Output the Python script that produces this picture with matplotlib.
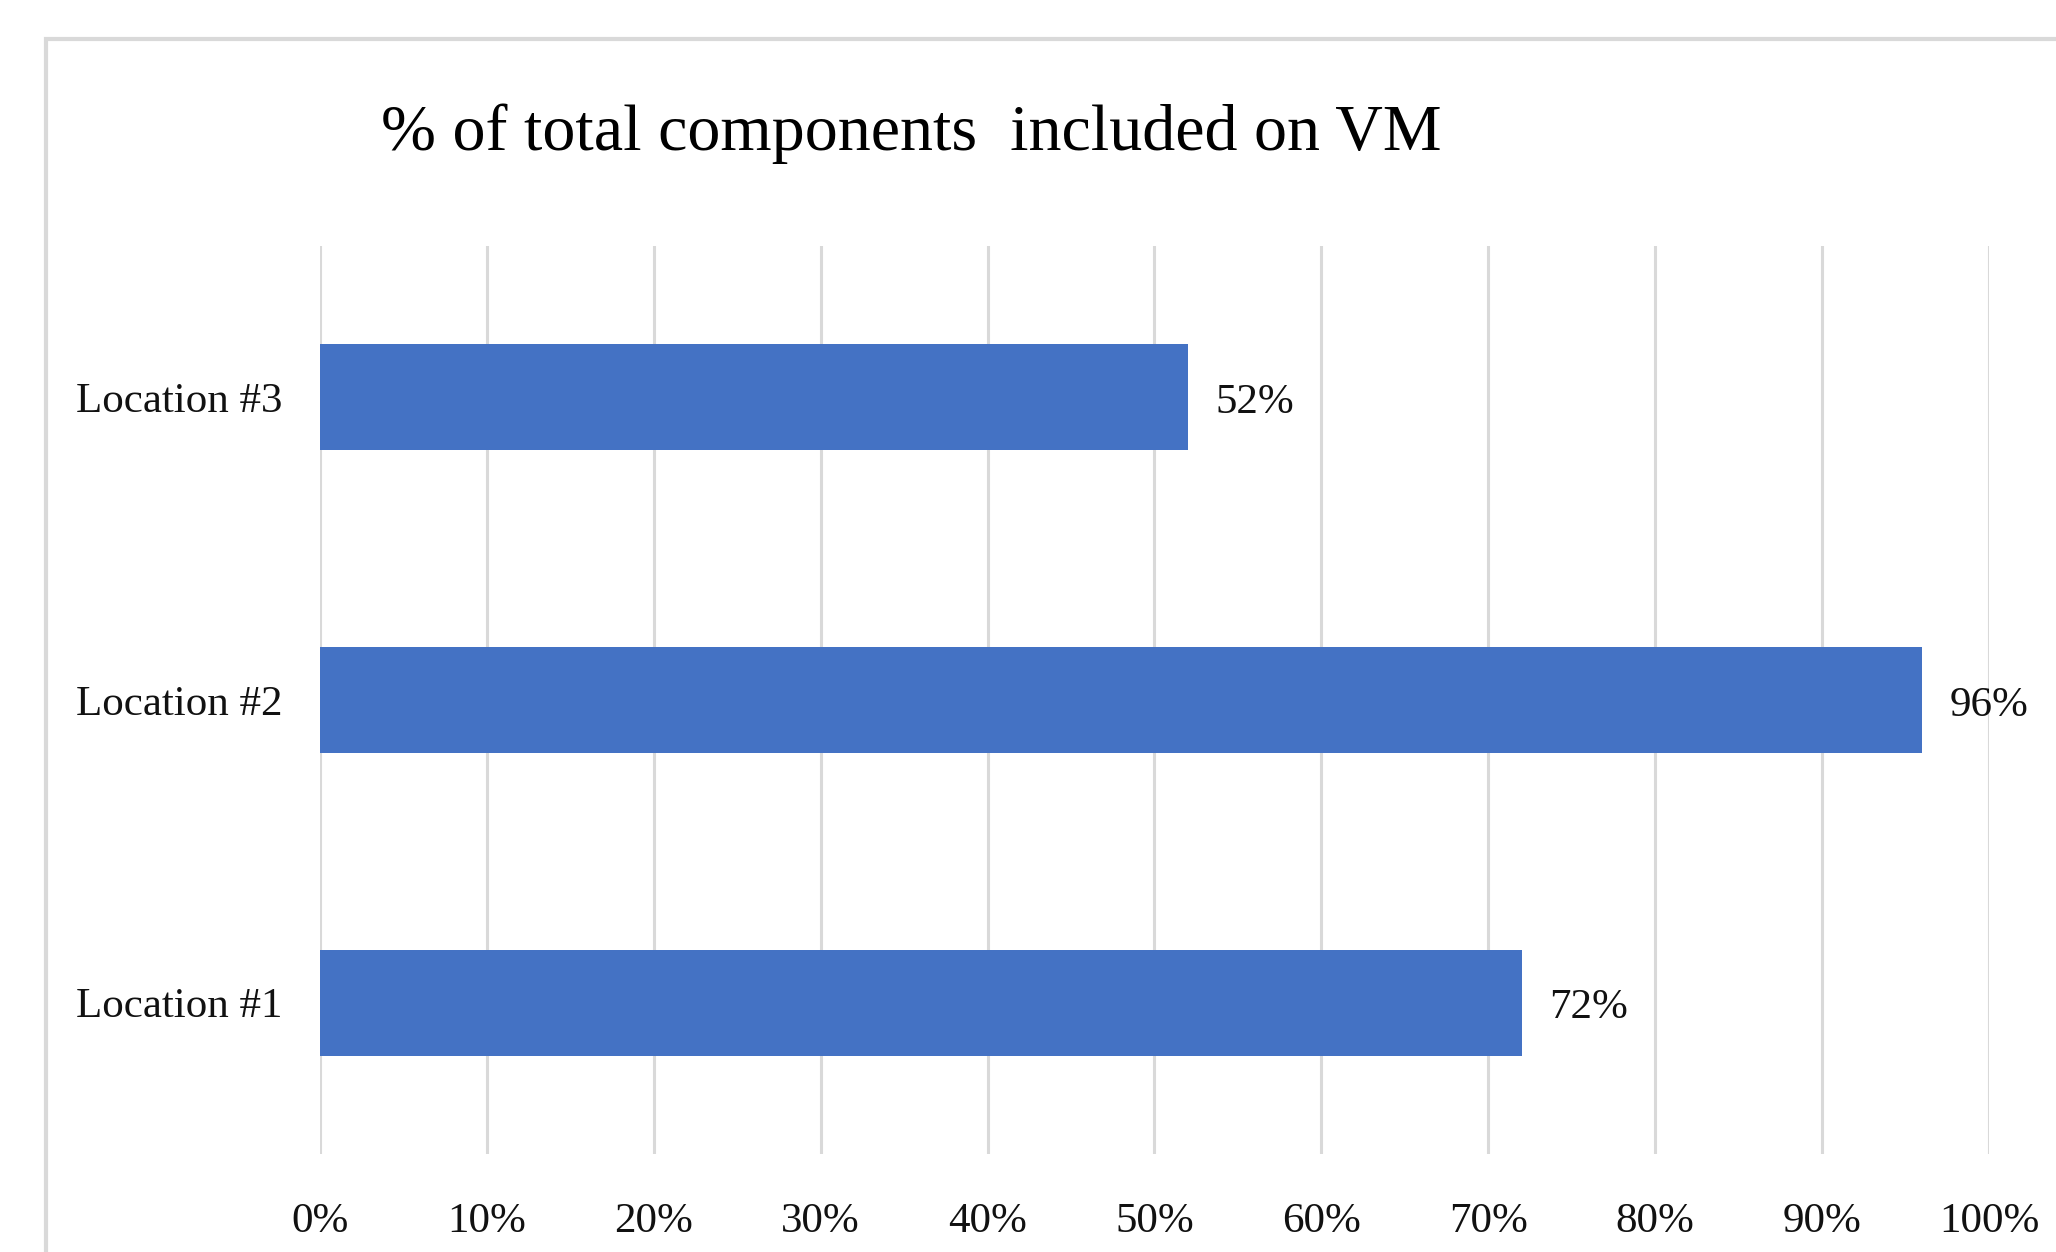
import matplotlib
matplotlib.use("Agg")
import matplotlib.pyplot as plt
from matplotlib.patches import Rectangle

# ---- data ----
locations = ["Location #1", "Location #2", "Location #3"]
shares = [72, 96, 52]          # percent
xticks = [0, 10, 20, 30, 40, 50, 60, 70, 80, 90, 100]
title = "% of total components  included on VM"

bar_color = "#4472C4"
grid_color = "#D9D9D9"

plt.rcParams["font.family"] = ["Liberation Serif", "DejaVu Serif"]

fig = plt.figure(figsize=(20.56, 12.52), dpi=100)
ax = fig.add_axes([0.1556, 0.0783, 0.8118, 0.7252])

# bars
ypos = list(range(len(locations)))
ax.barh(ypos, shares, height=0.35, color=bar_color, zorder=3)

# value labels at the end of each bar
for y, v in zip(ypos, shares):
    ax.annotate(f"{v}%", xy=(v, y), xytext=(20, -4), textcoords="offset points",
                va="center", ha="left", fontsize=31, color="#111111")

ax.set_xlim(0, 100)
ax.set_ylim(-0.5, 2.5)
ax.set_xticks(xticks)
ax.set_xticklabels([f"{t}%" for t in xticks])
ax.set_yticks(ypos)
ax.set_yticklabels(locations)

# only vertical gridlines, no spines
ax.grid(axis="x", color=grid_color, linewidth=2.2, zorder=0)
for s in ax.spines.values():
    s.set_visible(False)
ax.tick_params(axis="x", length=0, pad=35, labelsize=31, labelcolor="#111111")
ax.tick_params(axis="y", length=0, pad=27, labelsize=31, labelcolor="#111111")

# chart title
fig.text(0.443, 0.893, title, ha="center", va="center", fontsize=47.5, color="#000000")

# outer chart border (runs off the right and bottom of the image)
fig.patches.append(Rectangle((46 / 2056, -0.05), 1.1, 1 - 39 / 1252 + 0.05,
                             transform=fig.transFigure, fill=False,
                             edgecolor=grid_color, linewidth=3))

fig.savefig("out.png", dpi=100)
